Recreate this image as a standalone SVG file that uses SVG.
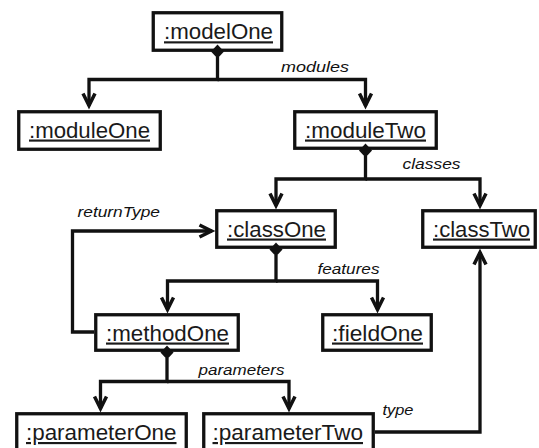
<svg xmlns="http://www.w3.org/2000/svg" width="539" height="448" viewBox="0 0 539 448">
  <style>
    .box { fill: #fff; stroke: #111; stroke-width: 3.3; }
    .name { font-family: "Liberation Sans", Arial, sans-serif; font-size: 21.5px; font-weight: normal; fill: #1a1a1a; text-decoration: underline; }
    .edge { fill: none; stroke: #111; stroke-width: 3.3; stroke-linejoin: miter; }
    .nav { marker-end: url(#open); }
    .diamond { fill: #111; stroke: none; }
    .role { font-family: "Liberation Sans", Arial, sans-serif; font-size: 15.5px; font-style: italic; fill: #111; }
  </style>
  <defs>
    <marker id="open" markerUnits="userSpaceOnUse" markerWidth="20" markerHeight="20" refX="0" refY="0" viewBox="-16 -10 20 20" orient="auto" overflow="visible">
      <path d="M-12,-6 L0,0 L-12,6" fill="none" stroke="#111" stroke-width="3.5" stroke-linejoin="miter"/>
    </marker>
  </defs>

  <rect width="539" height="448" fill="#fff"/>

  <!-- nodes -->
  <g id="modelOne">
    <rect class="box" x="153.25" y="12.75" width="128.5" height="37.5"/>
    <text class="name" x="164" y="39.3" textLength="109" lengthAdjust="spacingAndGlyphs">:modelOne</text>
  </g>
  <g id="moduleOne">
    <rect class="box" x="18.75" y="111.75" width="141.5" height="37.5"/>
    <text class="name" x="29" y="137.5" textLength="121" lengthAdjust="spacingAndGlyphs">:moduleOne</text>
  </g>
  <g id="moduleTwo">
    <rect class="box" x="294.75" y="111.75" width="141.5" height="36.5"/>
    <text class="name" x="305" y="137.5" textLength="121" lengthAdjust="spacingAndGlyphs">:moduleTwo</text>
  </g>
  <g id="classOne">
    <rect class="box" x="216.75" y="210.75" width="118.5" height="36.5"/>
    <text class="name" x="227" y="236.5" textLength="99" lengthAdjust="spacingAndGlyphs">:classOne</text>
  </g>
  <g id="classTwo">
    <rect class="box" x="422.75" y="210.75" width="112.5" height="36.5"/>
    <text class="name" x="433" y="236.5" textLength="97" lengthAdjust="spacingAndGlyphs">:classTwo</text>
  </g>
  <g id="methodOne">
    <rect class="box" x="95.75" y="314.75" width="142.5" height="35.5"/>
    <text class="name" x="106" y="340.5" textLength="123" lengthAdjust="spacingAndGlyphs">:methodOne</text>
  </g>
  <g id="fieldOne">
    <rect class="box" x="322.75" y="314.75" width="108.5" height="35.5"/>
    <text class="name" x="332" y="340.5" textLength="91" lengthAdjust="spacingAndGlyphs">:fieldOne</text>
  </g>
  <g id="parameterOne">
    <rect class="box" x="16.75" y="413.75" width="169.5" height="50"/>
    <text class="name" x="26" y="440" textLength="150.5" lengthAdjust="spacingAndGlyphs">:parameterOne</text>
  </g>
  <g id="parameterTwo">
    <rect class="box" x="203.75" y="413.75" width="169.5" height="50"/>
    <text class="name" x="212.5" y="440" textLength="150.5" lengthAdjust="spacingAndGlyphs">:parameterTwo</text>
  </g>

  <!-- connectors (drawn last so the composition diamonds sit on the box borders) -->
  <g id="connectors">
    <!-- modelOne modules -->
    <path class="edge" d="M217.5,57 V79.5 H89 V105.5"/>
    <path class="edge" d="M217.5,79.5 H365.5 V105.5"/>
    <path class="edge nav" d="M89,100 V105.5"/>
    <path class="edge nav" d="M365.5,100 V105.5"/>
    <path class="diamond" d="M217.5,44.5 L224,51.5 L217.5,58.5 L211,51.5 Z"/>
    <text class="role" x="281" y="71.5" textLength="68" lengthAdjust="spacingAndGlyphs">modules</text>

    <!-- moduleTwo classes -->
    <path class="edge" d="M365.5,156 V179 H276 V205"/>
    <path class="edge" d="M365.5,179 H480 V205"/>
    <path class="edge nav" d="M276,199 V205.5"/>
    <path class="edge nav" d="M480,199 V205.5"/>
    <path class="diamond" d="M365.5,143.5 L372,150.5 L365.5,157.5 L359,150.5 Z"/>
    <text class="role" x="402.5" y="169" textLength="58" lengthAdjust="spacingAndGlyphs">classes</text>

    <!-- classOne features -->
    <path class="edge" d="M276,255 V281 H167.5 V309"/>
    <path class="edge" d="M276,281 H377.5 V309"/>
    <path class="edge nav" d="M167.5,303 V309.5"/>
    <path class="edge nav" d="M377.5,303 V309.5"/>
    <path class="diamond" d="M276,242.5 L282.5,249.5 L276,256.5 L269.5,249.5 Z"/>
    <text class="role" x="317.5" y="273.5" textLength="62" lengthAdjust="spacingAndGlyphs">features</text>

    <!-- methodOne parameters -->
    <path class="edge" d="M167,358 V381.5 H100.5 V408"/>
    <path class="edge" d="M167,381.5 H289 V408"/>
    <path class="edge nav" d="M100.5,402 V408.5"/>
    <path class="edge nav" d="M289,402 V408.5"/>
    <path class="diamond" d="M167,345.5 L173.5,352.5 L167,359.5 L160.5,352.5 Z"/>
    <text class="role" x="198.5" y="374.5" textLength="86" lengthAdjust="spacingAndGlyphs">parameters</text>

    <!-- methodOne returnType -->
    <path class="edge" d="M94,332 H72.5 V231 H211.5"/>
    <path class="edge nav" d="M205,231 H211.5"/>
    <text class="role" x="77.5" y="216.5" textLength="82.5" lengthAdjust="spacingAndGlyphs">returnType</text>

    <!-- parameterTwo type -->
    <path class="edge" d="M375,432 H480 V252.5"/>
    <path class="edge nav" d="M480,259 V252.5"/>
    <text class="role" x="382.5" y="415" textLength="31" lengthAdjust="spacingAndGlyphs">type</text>
  </g>
</svg>
